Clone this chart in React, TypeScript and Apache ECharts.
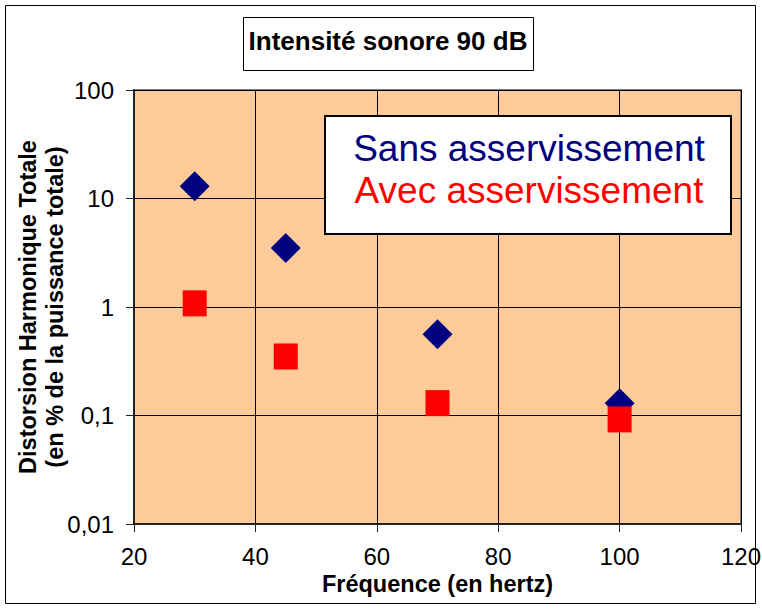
import React, { useEffect, useRef } from "react";
import * as echarts from "echarts";

const frequencies = [30, 45, 70, 100];
const sansValues = [13, 3.5, 0.56, 0.13];
const avecValues = [1.08, 0.35, 0.13, 0.092];
const xTicks = [20, 40, 60, 80, 100, 120];
const titleText = "Intensité sonore 90 dB";
const sansName = "Sans asservissement";
const avecName = "Avec asservissement";
const xName = "Fréquence (en hertz)";
const yName = "Distorsion Harmonique Totale\n(en % de la puissance totale)";

const FONT = "'Liberation Sans', Arial, sans-serif";

export default function App() {
  const ref = useRef<HTMLDivElement>(null);
  useEffect(() => {
    document.body.style.margin = "0";
    const chart = echarts.init(ref.current!, undefined, { renderer: "svg" });
    const fmt = (v: number) => String(v).replace(".", ",");
    chart.setOption({
      animation: false,
      backgroundColor: "#ffffff",
      textStyle: { fontFamily: FONT },
      grid: {
        left: 134, right: 21, top: 90, bottom: 86, containLabel: false, outerBoundsMode: "none",
        show: true, backgroundColor: "#FFCC99", borderColor: "#808080", borderWidth: 2,
      },
      xAxis: {
        type: "value",
        min: xTicks[0],
        max: xTicks[xTicks.length - 1],
        interval: 20,
        name: xName,
        nameLocation: "middle",
        nameGap: 50,
        nameMoveOverlap: false,
        nameTextStyle: { fontSize: 23.5, fontWeight: "bold", color: "#000", lineHeight: 20, fontFamily: FONT },
        axisLine: { show: true, lineStyle: { color: "#222", width: 2 } },
        axisTick: { show: true, length: 8, lineStyle: { color: "#222", width: 1 } },
        axisLabel: { fontSize: 24, color: "#000", margin: 23, lineHeight: 18, fontFamily: FONT },
        splitLine: { show: true, lineStyle: { color: "#000", width: 1 } },
      },
      yAxis: {
        type: "log",
        logBase: 10,
        min: 0.01,
        max: 100,
        name: yName,
        nameLocation: "middle",
        nameGap: 66,
        nameMoveOverlap: false,
        nameTextStyle: { fontSize: 23.5, fontWeight: "bold", color: "#000", lineHeight: 27, fontFamily: FONT },
        axisLine: { show: true, lineStyle: { color: "#222", width: 2 } },
        axisTick: { show: true, length: 8, lineStyle: { color: "#222", width: 1 } },
        axisLabel: { fontSize: 24, color: "#000", margin: 20, formatter: (v: number) => fmt(v), fontFamily: FONT },
        splitLine: { show: true, lineStyle: { color: "#000", width: 1 } },
      },
      series: [
        {
          name: sansName,
          type: "scatter",
          symbol: "diamond",
          symbolSize: [30, 30],
          itemStyle: { color: "#000080", opacity: 1 },
          data: frequencies.map((f, i) => [f, sansValues[i]]),
          z: 2,
        },
        {
          name: avecName,
          type: "scatter",
          symbol: "rect",
          symbolSize: [24, 26],
          itemStyle: { color: "#FF0000", opacity: 1 },
          data: frequencies.map((f, i) => [f, avecValues[i]]),
          z: 3,
        },
      ],
      graphic: [
        { type: "rect", shape: { x: 5.5, y: 5.5, width: 750, height: 598 }, style: { fill: "none", stroke: "#000", lineWidth: 1 }, z: -1, silent: true },
        { type: "rect", shape: { x: 243.5, y: 17.5, width: 290, height: 53 }, style: { fill: "#fff", stroke: "#000", lineWidth: 1 }, z: 10 },
        { type: "text", x: 388, y: 41, style: { text: titleText, fill: "#000", font: `bold 26px ${FONT}`, align: "center", verticalAlign: "middle" }, z: 11 },
        { type: "rect", shape: { x: 325, y: 116, width: 406, height: 118 }, style: { fill: "#fff", stroke: "#000", lineWidth: 2 }, z: 10 },
        { type: "text", x: 529, y: 148, style: { text: sansName, fill: "#000080", font: `37px ${FONT}`, align: "center", verticalAlign: "middle" }, z: 11 },
        { type: "text", x: 529, y: 190, style: { text: avecName, fill: "#FF0000", font: `37px ${FONT}`, align: "center", verticalAlign: "middle" }, z: 11 },
      ],
    });
    return () => chart.dispose();
  }, []);
  return <div ref={ref} style={{ width: 762, height: 610 }} />;
}
